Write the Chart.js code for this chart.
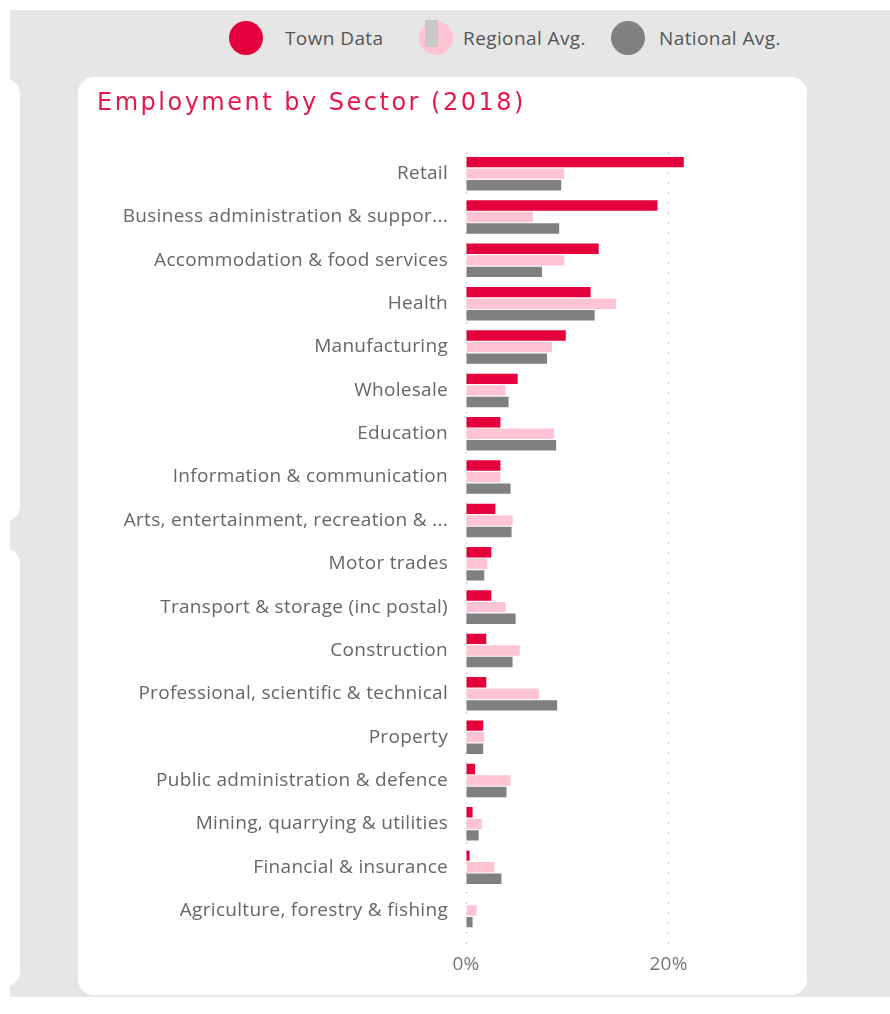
<!DOCTYPE html>
<html>
<head>
<meta charset="utf-8">
<script src="https://cdn.jsdelivr.net/npm/chart.js@4/dist/chart.umd.min.js"></script>
<style>
  body { margin: 0; background: #fff; width: 890px; height: 1014px; overflow: hidden; font-family: "Open Sans", sans-serif; }
  .page { position: absolute; left: 10px; top: 10px; width: 880px; height: 987px; background: #e6e6e6; }
  .card { position: absolute; background: #fff; border-radius: 16px; }
  .legend { position: absolute; top: 0; left: 0; height: 56px; width: 880px; }
  .legend .item { position: absolute; top: 11px; height: 34px; display: flex; align-items: center; font-size: 19px; letter-spacing: 0.4px; color: #555; }
  .legend .dot { width: 34px; height: 34px; border-radius: 50%; margin-right: 10px; position: relative; }
  .legend .bar { position: absolute; left: 6px; top: -1px; width: 13px; height: 27px; background: #c8c8c8; }
  .title { position: absolute; left: 19px; top: 10px; line-height: 30px; font-family: "DejaVu Sans", sans-serif; font-size: 24px; letter-spacing: 2.5px; color: #e8174a; white-space: nowrap; }
  canvas { position: absolute; left: 0; top: 0; }
</style>
</head>
<body>
<div class="page">
  <div class="legend" id="legend"></div>
  <div class="card" style="left:-30px; top:68px; width:40px; height:444px;"></div>
  <div class="card" style="left:-30px; top:538px; width:40px; height:439px;"></div>
  <div class="card" style="left:68px; top:67px; width:729px; height:918px;">
    <canvas id="sectorChart" width="729" height="918"></canvas>
    <div class="title">Employment by Sector (2018)</div>
  </div>
</div>
<script>
// sectors, top to bottom
const sectors = [
  'Retail',
  'Business administration & suppor...',
  'Accommodation & food services',
  'Health',
  'Manufacturing',
  'Wholesale',
  'Education',
  'Information & communication',
  'Arts, entertainment, recreation & ...',
  'Motor trades',
  'Transport & storage (inc postal)',
  'Construction',
  'Professional, scientific & technical',
  'Property',
  'Public administration & defence',
  'Mining, quarrying & utilities',
  'Financial & insurance',
  'Agriculture, forestry & fishing'
];

// share of employment, %
const townData = [21.5, 18.9, 13.1, 12.3, 9.85, 5.1, 3.4, 3.4, 2.9, 2.5, 2.5, 2.0, 2.0, 1.7, 0.9, 0.65, 0.35, 0];
const regionalAvg = [9.7, 6.6, 9.7, 14.8, 8.5, 3.9, 8.7, 3.4, 4.6, 2.1, 3.9, 5.3, 7.2, 1.8, 4.4, 1.55, 2.8, 1.05];
const nationalAvg = [9.4, 9.2, 7.5, 12.7, 8.0, 4.2, 8.9, 4.4, 4.5, 1.8, 4.9, 4.6, 9.0, 1.7, 4.0, 1.25, 3.5, 0.65];

const axisTicks = [0, 20];

const seriesNames = ['Town Data', 'Regional Avg.', 'National Avg.'];
const seriesColors = ['#e4003b', '#ffc4d3', '#808080'];

// legend sits above the card on the grey page
const legendX = [219, 409, 601];
const legendGap = [22, 10, 14];
const legendEl = document.getElementById('legend');
seriesNames.forEach((name, i) => {
  const item = document.createElement('div');
  item.className = 'item';
  item.style.left = legendX[i] + 'px';
  const dot = document.createElement('span');
  dot.className = 'dot';
  dot.style.background = seriesColors[i];
  dot.style.marginRight = legendGap[i] + 'px';
  if (i === 1) {
    const bar = document.createElement('span');
    bar.className = 'bar';
    dot.appendChild(bar);
  }
  item.appendChild(dot);
  item.appendChild(document.createTextNode(name));
  legendEl.appendChild(item);
});

// a touch of tracking on the axis text
const textSpacing = {
  id: 'textSpacing',
  beforeDraw: chart => { chart.ctx.letterSpacing = '0.3px'; }
};

const ctx = document.getElementById('sectorChart').getContext('2d');
new Chart(ctx, {
  type: 'bar',
  data: {
    labels: sectors,
    datasets: [townData, regionalAvg, nationalAvg].map((values, i) => ({
      label: seriesNames[i],
      data: values,
      backgroundColor: seriesColors[i],
      categoryPercentage: 0.8,
      barPercentage: 0.9
    }))
  },
  plugins: [textSpacing],
  options: {
    indexAxis: 'y',
    responsive: false,
    animation: false,
    layout: { padding: { left: 19, right: 27, top: 75, bottom: 10 } },
    plugins: {
      legend: { display: false },
      tooltip: { enabled: false }
    },
    scales: {
      x: {
        min: 0,
        max: 31,
        border: { display: false, dash: [2, 8] },
        grid: {
          color: '#c8c8c8',
          tickBorderDash: [2, 8],
          tickColor: '#c8c8c8',
          tickLength: 12,
          drawTicks: true
        },
        afterBuildTicks: scale => {
          scale.ticks = axisTicks.map(v => ({ value: v }));
        },
        ticks: {
          padding: 9,
          color: '#777',
          font: { family: 'Open Sans', size: 19 },
          callback: v => v + '%'
        }
      },
      y: {
        border: { display: false },
        grid: { display: false },
        afterFit: scale => { scale.width = 369; },
        ticks: {
          autoSkip: false,
          padding: 10,
          color: '#666',
          font: { family: 'Open Sans', size: 19 }
        }
      }
    }
  }
});
</script>
</body>
</html>
